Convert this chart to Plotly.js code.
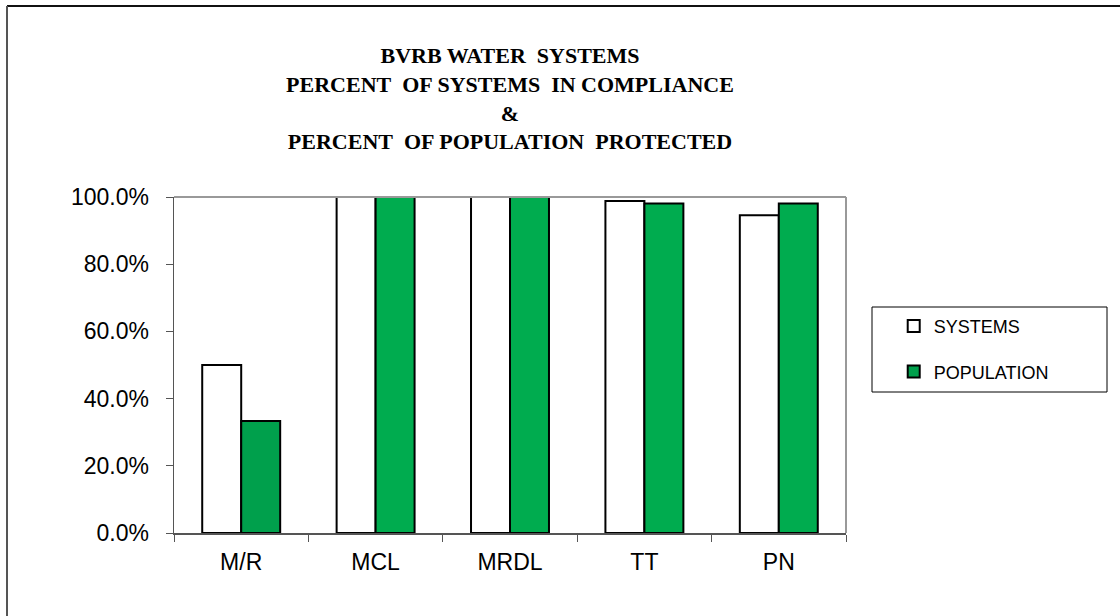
<!DOCTYPE html>
<html>
<head>
<meta charset="utf-8">
<script src="https://cdn.plot.ly/plotly-3.0.1.min.js"></script>
<style>html,body{margin:0;padding:0;background:#fff;}#chart{width:1120px;height:616px;}</style>
</head>
<body>
<div id="chart"></div>
<script>
const categories = ["M/R", "MCL", "MRDL", "TT", "PN"];
const systemsValues = [0.500, 1.000, 1.000, 0.988, 0.946];
const populationValues = [0.333, 1.000, 1.000, 0.981, 0.981];
const seriesNames = ["SYSTEMS", "POPULATION"];
const tickValues = [0, 0.2, 0.4, 0.6, 0.8, 1.0];
const tickLabels = ["0.0%", "20.0%", "40.0%", "60.0%", "80.0%", "100.0%"];
const titleLines = ["BVRB WATER\u00a0 SYSTEMS", "PERCENT\u00a0 OF SYSTEMS\u00a0 IN COMPLIANCE", "&amp;", "PERCENT\u00a0 OF POPULATION\u00a0 PROTECTED"];

const popColors = populationValues.map((v, i) => i === 0 ? "#00a04c" : "#00ac4f");

const traces = [
  {
    type: "bar", name: seriesNames[0], x: categories, y: systemsValues,
    legendgroup: "g1",
    marker: {color: "#ffffff", line: {color: "#000000", width: 2}},
    hoverinfo: "x+y"
  },
  {
    type: "bar", name: seriesNames[1], x: categories, y: populationValues,
    legendgroup: "g2",
    marker: {color: popColors, line: {color: "#000000", width: 2}},
    hoverinfo: "x+y"
  }
];

const layout = {
  width: 1120, height: 616,
  paper_bgcolor: "#ffffff", plot_bgcolor: "#ffffff",
  margin: {l: 174, r: 274, t: 197, b: 83, pad: 0},
  barmode: "group", bargap: 0.42, bargroupgap: 0,
  showlegend: true,
  title: {
    text: titleLines.join("<br>"),
    font: {family: "Liberation Serif, Times New Roman, serif", size: 22, color: "#000000", weight: "bold"},
    x: 0.5, xref: "paper", xanchor: "center",
    y: 0.897, yref: "container", yanchor: "top"
  },
  xaxis: {
    type: "category",
    tickson: "boundaries",
    ticks: "outside", ticklen: 7, tickcolor: "#555555", tickwidth: 1,
    showline: true, linecolor: "#555555", linewidth: 1.5,
    showgrid: false, zeroline: false,
    ticklabelstandoff: 8,
    tickfont: {family: "Liberation Sans, Arial, sans-serif", size: 23, color: "#000000"}
  },
  yaxis: {
    range: [0, 1.0], autorange: false,
    tickvals: tickValues, ticktext: tickLabels,
    ticks: "outside", ticklen: 7, tickcolor: "#555555", tickwidth: 1,
    showline: true, linecolor: "#555555", linewidth: 1.5,
    showgrid: false, zeroline: false,
    ticklabelstandoff: 12,
    tickfont: {family: "Liberation Sans, Arial, sans-serif", size: 23, color: "#000000"}
  },
  legend: {
    x: 1.071, xanchor: "left", y: 0.670, yanchor: "top",
    bgcolor: "rgba(0,0,0,0)", borderwidth: 0,
    traceorder: "grouped",
    font: {family: "Liberation Sans, Arial, sans-serif", size: 18, color: "#000000"},
    tracegroupgap: 19, itemwidth: 30
  },
  shapes: [
    {type: "line", xref: "paper", yref: "paper", x0: 0, x1: 1, y0: 1, y1: 1, line: {color: "#999999", width: 2}},
    {type: "line", xref: "paper", yref: "paper", x0: 1, x1: 1, y0: 0, y1: 1, line: {color: "#999999", width: 2}},
    {type: "rect", xref: "paper", yref: "paper", x0: (872-174)/672, x1: (1107-174)/672, y0: (533-392)/336, y1: (533-307)/336, line: {color: "#000000", width: 1}, fillcolor: "rgba(0,0,0,0)"},
    {type: "line", xref: "paper", yref: "paper", x0: (7-174)/672, x1: (1125-174)/672, y0: (533-6)/336, y1: (533-6)/336, line: {color: "#111111", width: 2}},
    {type: "line", xref: "paper", yref: "paper", x0: (7-174)/672, x1: (7-174)/672, y0: (533-6)/336, y1: (533-620)/336, line: {color: "#555555", width: 2}}
  ]
};

Plotly.newPlot("chart", traces, layout, {displayModeBar: false, staticPlot: true});
</script>
</body>
</html>
